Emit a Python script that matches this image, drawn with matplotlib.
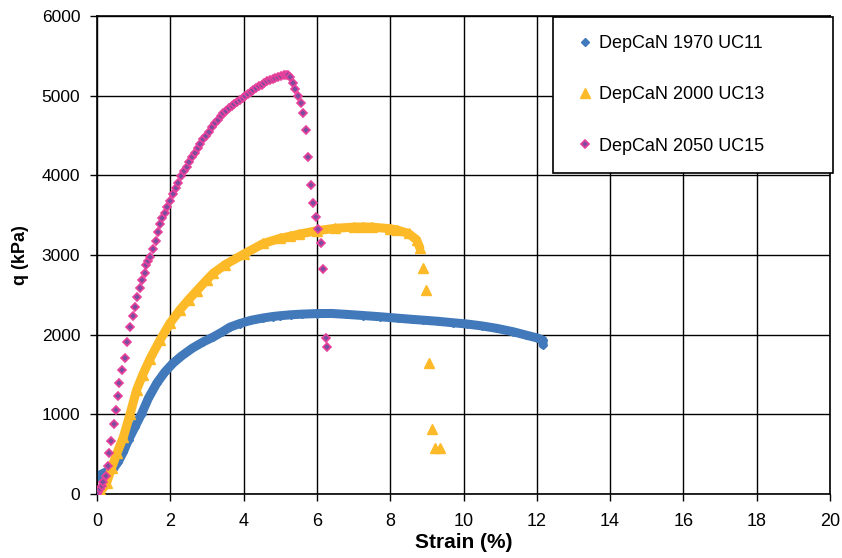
import matplotlib
matplotlib.use("Agg")
import matplotlib.pyplot as plt

# strain (%) / q (kPa)
strain_1970 = [0.00, 0.13, 0.26, 0.45, 0.58, 0.72, 0.86, 1.04, 1.22, 1.40, 1.63, 1.85,
               2.07, 2.30, 2.60, 2.90, 3.17, 3.40, 3.63, 3.90, 4.20, 4.54, 4.80, 5.00,
               5.30, 5.60, 6.00, 6.40, 6.80, 7.27, 7.72, 8.20, 8.60, 8.90, 9.30, 9.70,
               10.09, 10.50, 10.90, 11.35, 11.70, 12.00, 12.17, 12.17]
q_1970 = [217, 250, 280, 320, 405, 530, 680, 845, 1010, 1200, 1390, 1530,
          1640, 1730, 1830, 1910, 1970, 2030, 2095, 2140, 2180, 2210, 2228, 2238,
          2250, 2258, 2265, 2266, 2255, 2240, 2225, 2207, 2192, 2182, 2168, 2150,
          2134, 2110, 2080, 2037, 1995, 1960, 1930, 1875]

strain_2000 = [0.00, 0.10, 0.26, 0.40, 0.55, 0.72, 0.90, 1.08, 1.25, 1.45, 1.72, 1.99,
               2.26, 2.50, 2.72, 3.00, 3.17, 3.50, 4.00, 4.54, 5.00, 5.27, 5.50, 6.00,
               6.50, 7.00, 7.27, 7.50, 8.00, 8.18, 8.50, 8.72, 8.81,
               8.89, 8.97, 9.06, 9.13, 9.22, 9.36]
q_2000 = [0, 30, 136, 330, 520, 715, 1000, 1305, 1500, 1700, 1933, 2143,
          2310, 2440, 2550, 2690, 2770, 2880, 3010, 3145, 3210, 3235, 3260, 3305,
          3335, 3350, 3352, 3350, 3330, 3315, 3270, 3190, 3088,
          2835, 2560, 1648, 820, 577, 577]
dense_2000 = 33  # first points form a continuous band

strain_2050 = [0.00, 0.04, 0.09, 0.13, 0.17, 0.24, 0.29, 0.34, 0.38, 0.46, 0.51, 0.56,
               0.61, 0.68, 0.76, 0.83, 0.90, 0.97, 1.04, 1.10, 1.17, 1.24, 1.30, 1.35,
               1.40, 1.45, 1.52, 1.60, 1.66, 1.72, 1.78, 1.85, 1.92, 2.00, 2.07, 2.15,
               2.22, 2.30, 2.37, 2.45, 2.52, 2.60, 2.67, 2.75, 2.82, 2.90, 2.97, 3.05,
               3.15, 3.22, 3.30, 3.37, 3.45, 3.52, 3.60, 3.67, 3.75, 3.82, 3.90, 3.97,
               4.05, 4.12, 4.20, 4.27, 4.35, 4.42, 4.50, 4.57, 4.65, 4.72, 4.80, 4.87,
               4.95, 5.02, 5.10, 5.17, 5.22, 5.27, 5.34, 5.40, 5.49, 5.56, 5.62, 5.70,
               5.76, 5.83, 5.90, 5.97, 6.03, 6.10, 6.17, 6.25, 6.27]
q_2050 = [0, 30, 60, 95, 155, 225, 350, 510, 670, 875, 1055, 1230,
          1390, 1560, 1710, 1910, 2095, 2230, 2350, 2470, 2590, 2690, 2780, 2870,
          2930, 2980, 3080, 3180, 3290, 3390, 3460, 3530, 3600, 3680, 3760, 3840,
          3910, 3990, 4050, 4110, 4170, 4230, 4285, 4340, 4395, 4450, 4500, 4550,
          4610, 4655, 4700, 4740, 4780, 4810, 4840, 4870, 4900, 4925, 4950, 4975,
          5000, 5025, 5050, 5075, 5100, 5120, 5140, 5160, 5180, 5195, 5210, 5225,
          5240, 5250, 5260, 5265, 5262, 5238, 5159, 5083, 4996, 4911, 4786, 4569,
          4234, 3878, 3652, 3473, 3326, 3153, 2824, 1958, 1849]

labels = ["DepCaN 1970 UC11", "DepCaN 2000 UC13", "DepCaN 2050 UC15"]
x_ticks = list(range(0, 21, 2))
y_ticks = list(range(0, 6001, 1000))

blue = "#4179bb"
yellow = "#fdba28"
purple = "#7b4d9e"
magenta = "#e8409b"

plt.rcParams["font.family"] = ["Liberation Sans", "DejaVu Sans"]

fig = plt.figure(figsize=(8.42, 5.58), dpi=100)
ax = fig.add_axes([97 / 842, 64 / 558, 733 / 842, 478 / 558])

# blue series: dense band of diamonds
ax.plot(strain_1970, q_1970, color=blue, lw=6.5, solid_capstyle="round", zorder=2)
h1, = ax.plot(strain_1970, q_1970, ls="none", marker="D", ms=4.2, color=blue, zorder=2)

# yellow series: band then sparse tail
ax.plot(strain_2000[:dense_2000], q_2000[:dense_2000], color=yellow, lw=6.5,
        solid_capstyle="round", zorder=3)
h2, = ax.plot(strain_2000, q_2000, ls="none", marker="^", ms=6.5, color=yellow, zorder=3)

# pink series
h3, = ax.plot(strain_2050, q_2050, ls="none", marker="D", ms=3.8, mfc=purple,
              mec=magenta, mew=1.2, zorder=4)

ax.set_xlim(0, 20)
ax.set_ylim(0, 6000)
ax.set_xticks(x_ticks)
ax.set_yticks(y_ticks)
ax.grid(True, color="black", lw=1.0)
ax.set_axisbelow(True)
for s in ax.spines.values():
    s.set_linewidth(1.2)
ax.tick_params(axis="both", direction="out", length=5, width=1.0, colors="black")
ax.tick_params(axis="y", labelsize=12.5, pad=7)
ax.tick_params(axis="x", labelsize=13, pad=9)

ax.set_xlabel("Strain (%)", fontsize=15, fontweight="bold", labelpad=2)
ax.set_ylabel("q (kPa)", fontsize=13, fontweight="bold", labelpad=9)

leg = fig.legend([h1, h2, h3], labels, loc="upper left",
                 bbox_to_anchor=(553 / 842, 1 - 17 / 558, 280 / 842, 0),
                 mode="expand", borderaxespad=0, fontsize=13, numpoints=1,
                 handlelength=1.5, handletextpad=0.05, borderpad=1.0,
                 labelspacing=1.9, fancybox=False, framealpha=1)
leg.get_frame().set_edgecolor("black")
leg.get_frame().set_linewidth(1.2)

fig.savefig("out.png", dpi=100)
